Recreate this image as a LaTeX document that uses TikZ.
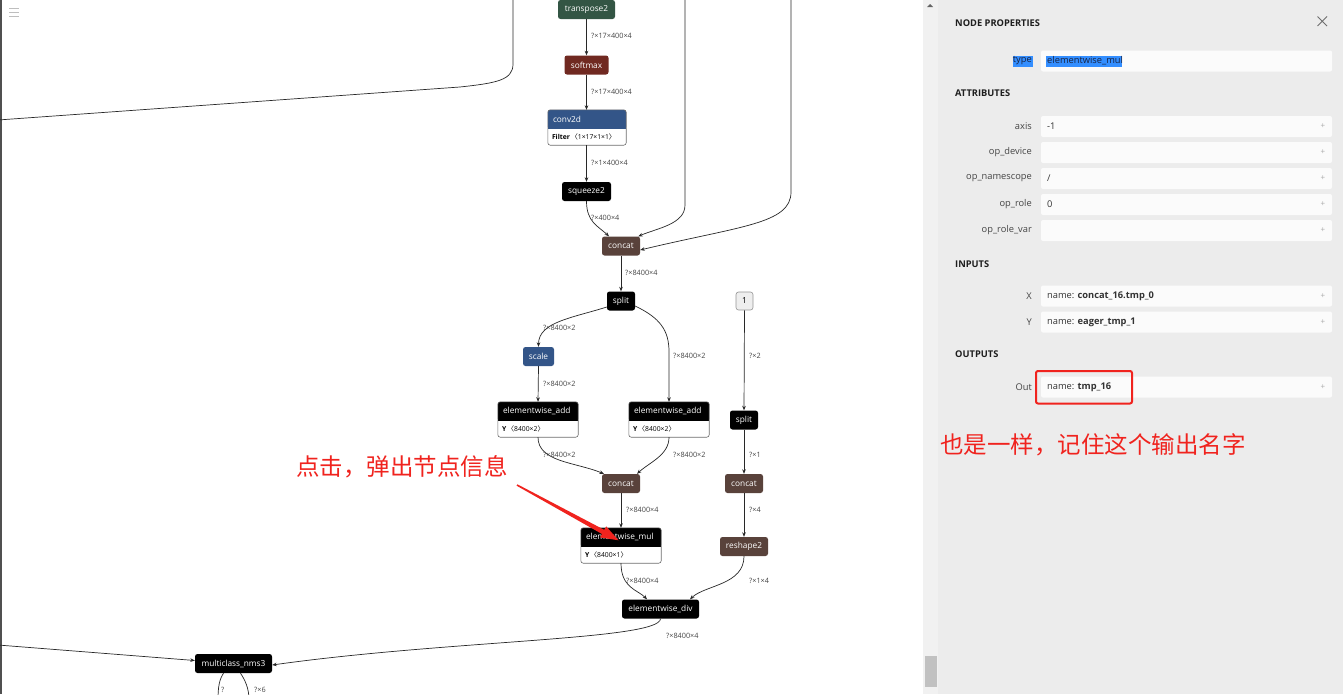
\documentclass[tikz,border=0pt]{standalone}
\usepackage{fontspec}
\setmainfont{Open Sans}
\newfontfamily\cjk{Noto Sans CJK SC}
\usetikzlibrary{arrows.meta,calc}
\definecolor{grn}{RGB}{51,85,68}
\definecolor{act}{RGB}{112,41,33}
\definecolor{lay}{RGB}{51,85,136}
\definecolor{ten}{RGB}{89,66,59}
\definecolor{edgec}{RGB}{40,40,40}
\definecolor{labc}{RGB}{70,70,70}
\definecolor{boxc}{RGB}{110,110,110}
\definecolor{annred}{RGB}{240,35,30}
\definecolor{panelbg}{RGB}{236,236,236}
\definecolor{stripbg}{RGB}{241,241,241}
\definecolor{thumb}{RGB}{193,193,193}
\definecolor{selblue}{RGB}{51,142,255}
\definecolor{plabc}{RGB}{68,68,68}
\definecolor{constfill}{RGB}{238,238,238}
\definecolor{constdraw}{RGB}{150,150,150}
\definecolor{pvalc}{RGB}{51,51,51}
\definecolor{pheadc}{RGB}{30,30,30}
\definecolor{plusc}{RGB}{170,170,170}
\definecolor{rowbg}{RGB}{251,251,251}
\definecolor{arrowc}{RGB}{100,100,100}
\definecolor{leftbar}{RGB}{80,80,80}
\definecolor{hamb}{RGB}{190,190,190}
\definecolor{closec}{RGB}{110,110,110}
\definecolor{seltext}{RGB}{25,35,65}
\newcommand\myopf{\fontsize{8.3}{10}\selectfont}
\newcommand\mybodyf{\fontsize{6.8}{8}\selectfont}
\newcommand\mypanf{\fontsize{9.3}{11}\selectfont}
\tikzset{
  op/.style={rounded corners=2.5pt, inner sep=0pt, text=white, font=\myopf, minimum height=19pt},
  blk/.style={op, fill=black},
  grnop/.style={op, fill=grn},
  actop/.style={op, fill=act},
  layop/.style={op, fill=lay},
  tenop/.style={op, fill=ten},
  constop/.style={op, fill=constfill, draw=constdraw, line width=0.6pt, text=black},
  edge/.style={draw=edgec, line width=0.7pt, -{Stealth[length=4.5pt,width=3.6pt]}},
  plain/.style={draw=edgec, line width=0.7pt},
  elab/.style={font=\fontsize{7.3}{9}\selectfont, text=labc, anchor=west, inner sep=0pt},
  plab/.style={font=\mypanf, text=plabc, anchor=east, inner sep=0pt},
  pval/.style={font=\mypanf, text=pvalc, anchor=west, inner sep=0pt},
  phead/.style={font=\mypanf\bfseries, text=pheadc, anchor=west, inner sep=0pt},
  pplus/.style={font=\fontsize{8}{9}\selectfont, text=plusc, inner sep=0pt},
  ann/.style={font=\cjk\fontsize{23.5}{26}\selectfont, text=annred, anchor=west, inner sep=0pt}
}
% two-part operator box: name, x, y, width, header colour, header text, body text
\newcommand\opbox[7]{%
  \node[minimum width=#4pt, minimum height=35pt, inner sep=0pt] (#1) at (#2,#3) {};
  \fill[white, rounded corners=2.5pt] (#1.north west) rectangle (#1.south east);
  \fill[#5, rounded corners=2.5pt] (#1.north west) rectangle ([yshift=-19pt]#1.north east);
  \fill[#5] ([yshift=-10pt]#1.north west) rectangle ([yshift=-19pt]#1.north east);
  \draw[draw=boxc, line width=0.6pt, rounded corners=2.5pt] (#1.north west) rectangle (#1.south east);
  \node[anchor=west, text=white, font=\myopf, inner sep=0pt] (#1-h) at ([xshift=5pt,yshift=-9.5pt]#1.north west) {#6};
  \node[anchor=west, font=\mybodyf, inner sep=0pt] (#1-b) at ([xshift=4pt,yshift=-27.5pt]#1.north west) {#7};
}
% property row: name, y, label, value
\newcommand\prow[4]{%
  \fill[rowbg, rounded corners=2pt] (1041,#2-10.5) rectangle (1332,#2+10.5);
  \node[plab] (#1-l) at (1032,#2) {#3};
  \node[pval] (#1-v) at (1047,#2) {#4};
  \node[pplus] (#1-p) at (1323,#2) {+};
}
\begin{document}
\begin{tikzpicture}[x=1pt, y=-1pt]
\useasboundingbox (0,0) rectangle (1343,694);
\fill[white] (0,0) rectangle (923,694);
\fill[stripbg] (923,0) rectangle (938,694);
\fill[panelbg] (938,0) rectangle (1343,694);
\fill[thumb] (925,656) rectangle (937,687);
\fill[arrowc] (927,7) -- (933,7) -- (930,4) -- cycle;
\fill[leftbar] (0,0) rectangle (1.5,694);
\foreach \yy in {8,12,16} \draw[hamb, line width=0.9pt] (9,\yy) -- (19,\yy);

\begin{scope}
\clip (0,0) rectangle (923,694);
% nodes
\node[grnop, minimum width=57pt] (tr) at (586.5,9.5) {transpose2};
\node[actop, minimum width=44pt] (sm) at (586.5,65) {softmax};
\opbox{conv}{587}{127.5}{78}{lay}{conv2d}{\textbf{Filter}\,{\cjk 〈}1×17×1×1{\cjk 〉}}
\node[blk, minimum width=49pt] (sq) at (586.5,191.5) {squeeze2};
\node[tenop, minimum width=38pt] (cc1) at (621,246) {concat};
\node[blk, minimum width=28pt] (sp1) at (621,301) {split};
\node[constop, minimum width=17pt, minimum height=18pt] (one) at (744.5,301) {1};
\node[layop, minimum width=31pt] (scale) at (538.5,356.5) {scale};
\opbox{ea1}{538}{419.5}{80}{black}{elementwise\_add}{\textbf{Y}\,{\cjk 〈}8400×2{\cjk 〉}}
\opbox{ea2}{669}{419.5}{80}{black}{elementwise\_add}{\textbf{Y}\,{\cjk 〈}8400×2{\cjk 〉}}
\node[blk, minimum width=28pt] (sp2) at (744,420) {split};
\node[tenop, minimum width=38pt] (cc2) at (621,483.5) {concat};
\node[tenop, minimum width=38pt] (cc3) at (744,483.5) {concat};
\opbox{em}{621}{545.5}{80}{black}{elementwise\_mul}{\textbf{Y}\,{\cjk 〈}8400×1{\cjk 〉}}
\node[tenop, minimum width=48pt] (rs) at (744,546.5) {reshape2};
\node[blk, minimum width=77pt] (ed) at (660.5,609) {elementwise\_div};
\node[blk, minimum width=77pt] (nms) at (233.5,663.5) {multiclass\_nms3};

% free ends
\coordinate (t1) at (513,-2);
\coordinate (t1e) at (-2,120);
\coordinate (t2) at (685,-2);
\coordinate (t3) at (791,-2);
\coordinate (l1) at (-2,645);
\coordinate (b1) at (218,700);
\coordinate (b2) at (249,700);

% connectors
\draw[edge] (tr.south) -- (sm.north);
\draw[edge] (sm.south) -- ([xshift=-0.5pt]conv.north);
\draw[edge] ([xshift=-0.5pt]conv.south) -- (sq.north);
\draw[edge] (sq.south) .. controls (586.5,222) and (598,226) .. ([xshift=-12pt]cc1.north);
\draw[edge] (t2) -- (685,205) .. controls (685,224) and (658,228) .. ([xshift=-2pt]cc1.north east);
\draw[edge] (t3) -- (791,192) .. controls (791,224) and (740,226) .. ([yshift=-4pt]cc1.east);
\draw[plain] (t1) -- (513,64) .. controls (513,80) and (497,83) .. (460,87) -- (t1e);
\draw[edge] (cc1.south) -- (sp1.north);
\draw[edge] ([yshift=-6pt]sp1.west) .. controls (572,318) and (538.5,322) .. (scale.north);
\draw[edge] ([yshift=-5pt]sp1.east) .. controls (660,318) and (669,330) .. (669,352) -- (ea2.north);
\draw[edge] (scale.south) -- (ea1.north);
\draw[edge] (one.south) -- (sp2.north);
\draw[edge] (ea1.south) .. controls (538,462) and (575,462) .. ([xshift=-17pt]cc2.north);
\draw[edge] (ea2.south) .. controls (669,455) and (650,462) .. ([xshift=16pt]cc2.north);
\draw[edge] (sp2.south) -- (cc3.north);
\draw[edge] (cc2.south) -- (em.north);
\draw[edge] (cc3.south) -- (rs.north);
\draw[edge] (em.south) .. controls (621,588) and (638,590) .. ([xshift=-13.5pt]ed.north);
\draw[edge] (rs.south) .. controls (744,585) and (705,585) .. ([xshift=29.5pt]ed.north);
\draw[edge] (ed.south) .. controls (660,640) and (450,640) .. ([yshift=-1.5pt]nms.east);
\draw[edge] (l1) -- ([yshift=3pt]nms.west);
\draw[plain] ([xshift=-10pt]nms.south) .. controls (219,680) and (218,688) .. (b1);
\draw[plain] ([xshift=7pt]nms.south) .. controls (245,680) and (249,688) .. (b2);

% edge labels
\node[elab] (l01) at (591,36) {?×17×400×4};
\node[elab] (l02) at (591,92) {?×17×400×4};
\node[elab] (l03) at (591,163) {?×1×400×4};
\node[elab] (l04) at (591,218) {?×400×4};
\node[elab] (l05) at (625,272.5) {?×8400×4};
\node[elab] (l06) at (543,328) {?×8400×2};
\node[elab] (l07) at (673,356) {?×8400×2};
\node[elab] (l08) at (749,356) {?×2};
\node[elab] (l09) at (543,383.5) {?×8400×2};
\node[elab] (l10) at (543,455) {?×8400×2};
\node[elab] (l11) at (673,455) {?×8400×2};
\node[elab] (l12) at (749,455) {?×1};
\node[elab] (l13) at (626,510) {?×8400×4};
\node[elab] (l14) at (749,510) {?×4};
\node[elab] (l15) at (626,581) {?×8400×4};
\node[elab] (l16) at (749,581) {?×1×4};
\node[elab] (l17) at (666,636) {?×8400×4};
\node[elab] (l18) at (221,689.5) {?};
\node[elab] (l19) at (254,689.5) {?×6};

% annotation: tapered red arrow
\node[ann] (ann1) at (296,466.5) {点击，弹出节点信息};
\fill[annred] (517.4,484.3) -- (604.2,529.8) -- (606.2,526.4) -- (618.5,540.3)
  -- (600.0,537.4) -- (602.0,534.0) -- (516.6,485.7) -- cycle;
\end{scope}

% properties panel
\node[phead] (hnp) at (955,23) {NODE PROPERTIES};
\draw[closec, line width=0.9pt] (1317.5,16.5) -- (1327,26) (1327,16.5) -- (1317.5,26);
\fill[rowbg, rounded corners=2pt] (1041,50.5) rectangle (1332,71.5);
\fill[selblue] (1013,55.5) rectangle (1033,67);
\node[plab, text=seltext] (typel) at (1032,61) {type};
\fill[selblue] (1046,55.5) rectangle (1121.5,67);
\node[pval, text=seltext] (typev) at (1047,61) {elementwise\_mul};
\node[phead] (hat) at (955,93) {ATTRIBUTES};
\prow{r1}{126.5}{axis}{-1}
\prow{r2}{152.5}{op\_device}{}
\prow{r3}{178.5}{op\_namescope}{/}
\prow{r4}{204.5}{op\_role}{0}
\prow{r5}{230.5}{op\_role\_var}{}
\node[phead] (hin) at (955,264) {INPUTS};
\prow{r6}{296}{X}{name: \textbf{concat\_16.tmp\_0}}
\prow{r7}{322}{Y}{name: \textbf{eager\_tmp\_1}}
\node[phead] (hout) at (955,354.5) {OUTPUTS};
\prow{r8}{387}{Out}{name: \textbf{tmp\_16}}
\draw[annred, line width=2pt, rounded corners=2pt] (1036,371) rectangle (1132,403.5);
\node[ann] (ann2) at (940,444.5) {也是一样，记住这个输出名字};
\end{tikzpicture}
\end{document}
